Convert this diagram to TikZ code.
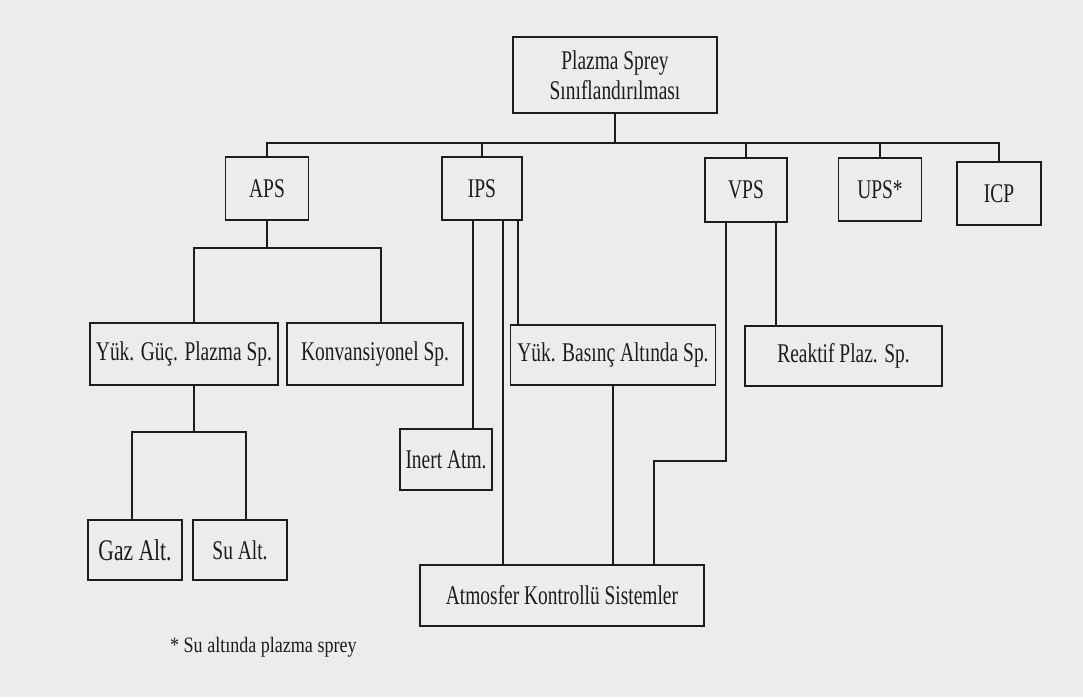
\documentclass[tikz,border=0pt]{standalone}
\usepackage{fontspec}
\setmainfont{Liberation Serif}[FakeStretch=0.72]
\newfontfamily\footfont{Liberation Serif}[FakeStretch=0.82]
\definecolor{paper}{RGB}{236,236,236}
\definecolor{ink}{RGB}{28,28,28}
\tikzset{
  box/.style={draw=ink, line width=1.8pt, inner sep=0pt, align=center, text=ink,
    font=\fontsize{27}{30}\selectfont},
  link/.style={draw=ink, line width=1.7pt},
}
\begin{document}
\begin{tikzpicture}[x=1pt,y=-1pt]
\fill[paper] (0,0) rectangle (1083,697);
\useasboundingbox (0,0) rectangle (1083,697);

% nodes
\node[box, minimum width=204pt, minimum height=76pt] (top) at (615,75) {Plazma Sprey\\Sınıflandırılması};
\node[box, minimum width=83pt, minimum height=63pt] (APS) at (267,188.5) {APS};
\node[box, minimum width=80pt, minimum height=63pt] (IPS) at (482,188.5) {IPS};
\node[box, minimum width=82pt, minimum height=64pt] (VPS) at (746,190) {VPS};
\node[box, minimum width=83pt, minimum height=63pt] (UPS) at (880,189.5) {UPS*};
\node[box, minimum width=84pt, minimum height=63pt] (ICP) at (999,193.5) {ICP};
\node[box, minimum width=188pt, minimum height=62pt] (YGP) at (184,354) {Yük. Güç. Plazma Sp.};
\node[box, minimum width=176pt, minimum height=62pt] (Konv) at (375,354) {Konvansiyonel Sp.};
\node[box, minimum width=205pt, minimum height=60pt] (YBA) at (613,355) {Yük. Basınç Altında Sp.};
\node[box, minimum width=197pt, minimum height=60pt] (Reak) at (843.5,356) {Reaktif Plaz. Sp.};
\node[box, minimum width=94pt, minimum height=60pt, font=\fontsize{30}{32}\selectfont] (Gaz) at (135,550) {Gaz Alt.};
\node[box, minimum width=94pt, minimum height=60pt] (Su) at (240,550) {Su Alt.};
\node[box, minimum width=92pt, minimum height=61pt] (Inert) at (446,459.5) {Inert Atm.};
\node[box, minimum width=284pt, minimum height=61pt] (Atmos) at (562,595.5) {Atmosfer Kontrollü Sistemler};
\node[text=ink, anchor=west, inner sep=0pt, font=\footfont\fontsize{22}{24}\selectfont] (note) at (170,647) {* Su altında plazma sprey};

% junction points
\coordinate (bus) at (0,143);
\coordinate (apsJ) at (267,248);
\coordinate (ygpJ) at (194,432);
\coordinate (vpsBend) at (654,461);

% top level
\draw[link] (top.south) -- (top.south |- bus);
\draw[link] (APS.north) -- (APS.north |- bus) -- (ICP.north |- bus) -- (ICP.north);
\draw[link] (IPS.north) -- (IPS.north |- bus);
\draw[link] (VPS.north) -- (VPS.north |- bus);
\draw[link] (UPS.north) -- (UPS.north |- bus);

% APS branch
\draw[link] (APS.south) -- (apsJ);
\draw[link] ([xshift=10pt]YGP.north) |- (apsJ) -| ([xshift=6pt]Konv.north);
\draw[link] ([xshift=10pt]YGP.south) -- (ygpJ);
\draw[link] ([xshift=-3pt]Gaz.north) |- (ygpJ) -| ([xshift=6pt]Su.north);

% IPS branch
\draw[link] ([xshift=-9pt]IPS.south) -- ([xshift=-9pt]IPS.south |- Inert.north);
\draw[link] ([xshift=21pt]IPS.south) -- ([xshift=21pt]IPS.south |- Atmos.north);
\draw[link] ([xshift=36pt]IPS.south) -- ([xshift=36pt]IPS.south |- YBA.north);
\draw[link] (YBA.south) -- (YBA.south |- Atmos.north);

% VPS branch
\draw[link] ([xshift=-20pt]VPS.south) |- (vpsBend) -- (vpsBend |- Atmos.north);
\draw[link] ([xshift=30pt]VPS.south) -- ([xshift=30pt]VPS.south |- Reak.north);
\end{tikzpicture}
\end{document}
